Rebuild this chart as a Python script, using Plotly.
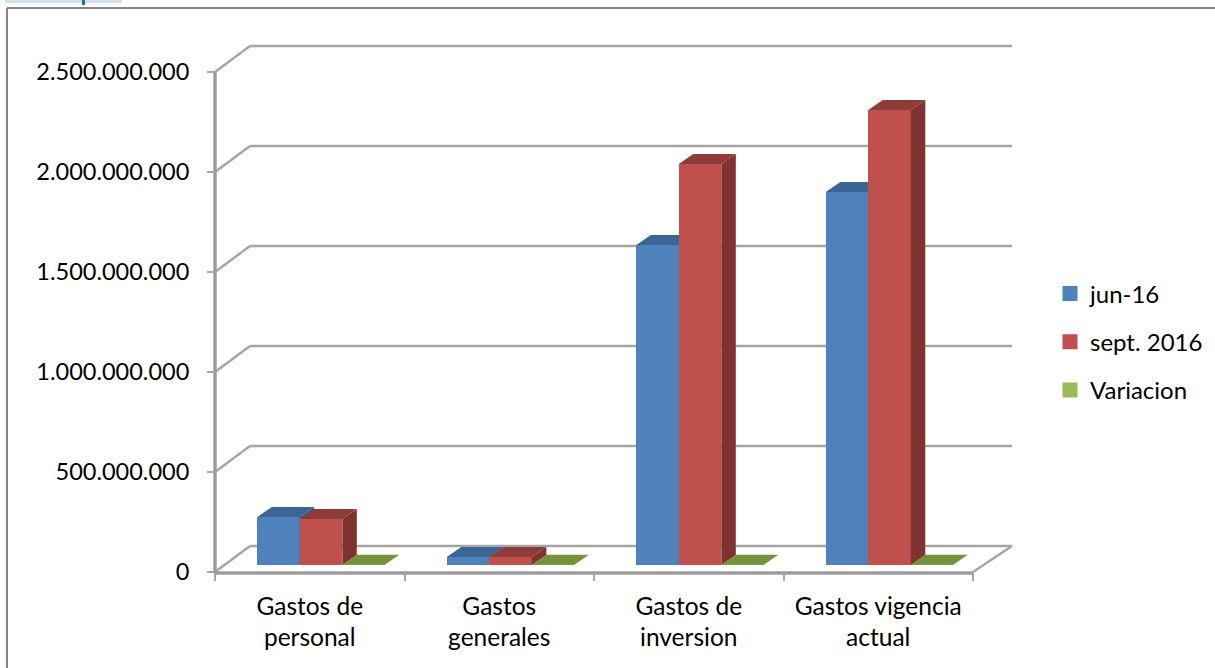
import plotly.graph_objects as go

categories = ["Gastos de<br>personal", "Gastos<br>generales", "Gastos de<br>inversion", "Gastos vigencia<br>actual"]
series_names = ["jun-16", "sept. 2016", "Variacion"]
jun_16 = [240e6, 40e6, 1600e6, 1865e6]
sept_2016 = [230e6, 40e6, 2005e6, 2275e6]
variacion = [1e6, 1e6, 1e6, 1e6]
y_ticks = [0, 500e6, 1000e6, 1500e6, 2000e6, 2500e6]

W, H = 1215, 668
FONT = "Lato"
GRAY = "#a6a6a6"
front_colors = ["#4F81BD", "#C0504D", "#9BBB59"]
top_colors = ["#3B6595", "#8F3B39", "#76923C"]
side_colors = ["#35587F", "#7F322F", "#66803A"]

# Axis geometry
x_left, x_right, y_bottom, y_top = 215, 1012, 572, 46
pad = 6                    # spare px round the plot so that edge lines are not clipped
px_x = 189.5               # px per category
px_y = 5e6                 # value per px
x_max = (x_right - x_left) / px_x
y_max = (y_bottom - y_top) * px_y
wall_dx, wall_dy = 35 / px_x, 26 * px_y
right_dx = 39 / px_x
bar_w = 42.5 / px_x
bar_start = 42.3 / px_x
bar_dx, bar_dy = 14.5 / px_x, 10 * px_y
base = 7 * px_y
front_drop = -1 * px_y

fig = go.Figure()


def line(xs, ys, width=2.5, color=GRAY):
    fig.add_trace(go.Scatter(x=xs, y=ys, mode="lines", line=dict(color=color, width=width),
                             showlegend=False, hoverinfo="skip", cliponaxis=False, zorder=-1))


# walls and floor
for v in y_ticks:
    line([wall_dx, x_max], [v + wall_dy, v + wall_dy])
    if v > 0:
        line([0, wall_dx], [v, v + wall_dy])
line([0, wall_dx], [0, wall_dy])
line([4, 4 + right_dx], [0, wall_dy])
line([0, 4], [front_drop, front_drop], width=3.5, color="#9c9c9c")
line([0, 0], [front_drop, y_ticks[-1]], width=3.5, color="#9c9c9c")

all_series = [jun_16, sept_2016, variacion]
for s, vals in enumerate(all_series):
    lefts = [i + bar_start + s * bar_w for i in range(len(vals))]
    z = 1 + s * 3
    fig.add_trace(go.Bar(x=[l + bar_w / 2 for l in lefts], y=vals, base=base, width=bar_w,
                         marker=dict(color=front_colors[s], line=dict(width=0)),
                         showlegend=False, zorder=z, name=series_names[s]))
    for l, v in zip(lefts, vals):
        r = l + bar_w
        t = base + v
        fig.add_trace(go.Scatter(x=[r, r + bar_dx, r + bar_dx, r, r],
                                 y=[base, base + bar_dy, t + bar_dy, t, base],
                                 fill="toself", fillcolor=side_colors[s], mode="lines", line=dict(width=0),
                                 showlegend=False, hoverinfo="skip", zorder=z + 1))
        fig.add_trace(go.Scatter(x=[l, r, r + bar_dx, l + bar_dx, l],
                                 y=[t, t, t + bar_dy, t + bar_dy, t],
                                 fill="toself", fillcolor=top_colors[s], mode="lines", line=dict(width=0),
                                 showlegend=False, hoverinfo="skip", zorder=z + 2))
    fig.add_trace(go.Scatter(x=[None], y=[None], mode="markers", name=series_names[s],
                             legendgroup=series_names[s],
                             marker=dict(symbol="square", size=15, color=front_colors[s])))

fig.update_layout(
    width=W, height=H, autosize=False,
    margin=dict(l=0, r=0, t=0, b=0, pad=0),
    paper_bgcolor="white", plot_bgcolor="rgba(0,0,0,0)",
    barmode="overlay", bargap=0,
    separators=",.",
    font=dict(family=FONT, size=23.5, color="#000000"),
    xaxis=dict(domain=[(x_left - pad) / W, (x_right + pad) / W],
               range=[-pad / px_x, x_max + pad / px_x], automargin=False,
               anchor="free", position=1 - y_bottom / H,
               showgrid=False, zeroline=False, showline=False,
               tickmode="array", tickvals=[0.5, 1.5, 2.5, 3.5], ticktext=categories,
               ticks="", ticklabelstandoff=17, tickfont=dict(family=FONT, size=24.5),
               minor=dict(tickmode="array", tickvals=[0, 1, 2, 3, 4], ticks="outside", ticklen=8,
                          tickwidth=2, tickcolor=GRAY, showgrid=False)),
    yaxis=dict(domain=[1 - (y_bottom + pad) / H, 1 - (y_top - pad) / H],
               range=[-pad * px_y, y_max + pad * px_y], automargin=False,
               anchor="free", position=x_left / W,
               showgrid=False, zeroline=False, showline=False,
               tickmode="array", tickvals=y_ticks, tickformat=",d", ticks="outside", ticklen=8,
               tickwidth=2, tickcolor=GRAY, ticklabelstandoff=13,
               tickfont=dict(family=FONT, size=23.5)),
    legend=dict(x=1050 / W, y=1 - 342 / H, xanchor="left", yanchor="middle",
                tracegroupgap=14, bgcolor="rgba(0,0,0,0)", font=dict(family=FONT, size=24),
                itemclick=False, itemdoubleclick=False),
    shapes=[
        dict(type="line", xref="paper", yref="paper", x0=7 / W, x1=1, y0=1 - 8 / H, y1=1 - 8 / H,
             line=dict(color="#868686", width=2)),
        dict(type="line", xref="paper", yref="paper", x0=7 / W, x1=7 / W, y0=0, y1=1 - 8 / H,
             line=dict(color="#868686", width=2)),
        dict(type="rect", xref="paper", yref="paper", x0=5 / W, x1=122 / W, y0=1 - 3 / H, y1=1,
             fillcolor="#cfe3ee", line=dict(width=0)),
        dict(type="rect", xref="paper", yref="paper", x0=82 / W, x1=85 / W, y0=1 - 5 / H, y1=1,
             fillcolor="#2f6f96", line=dict(width=0)),
    ],
)

fig.write_html("out.html", config={"displayModeBar": False}, post_script="document.body.style.margin='0';")
